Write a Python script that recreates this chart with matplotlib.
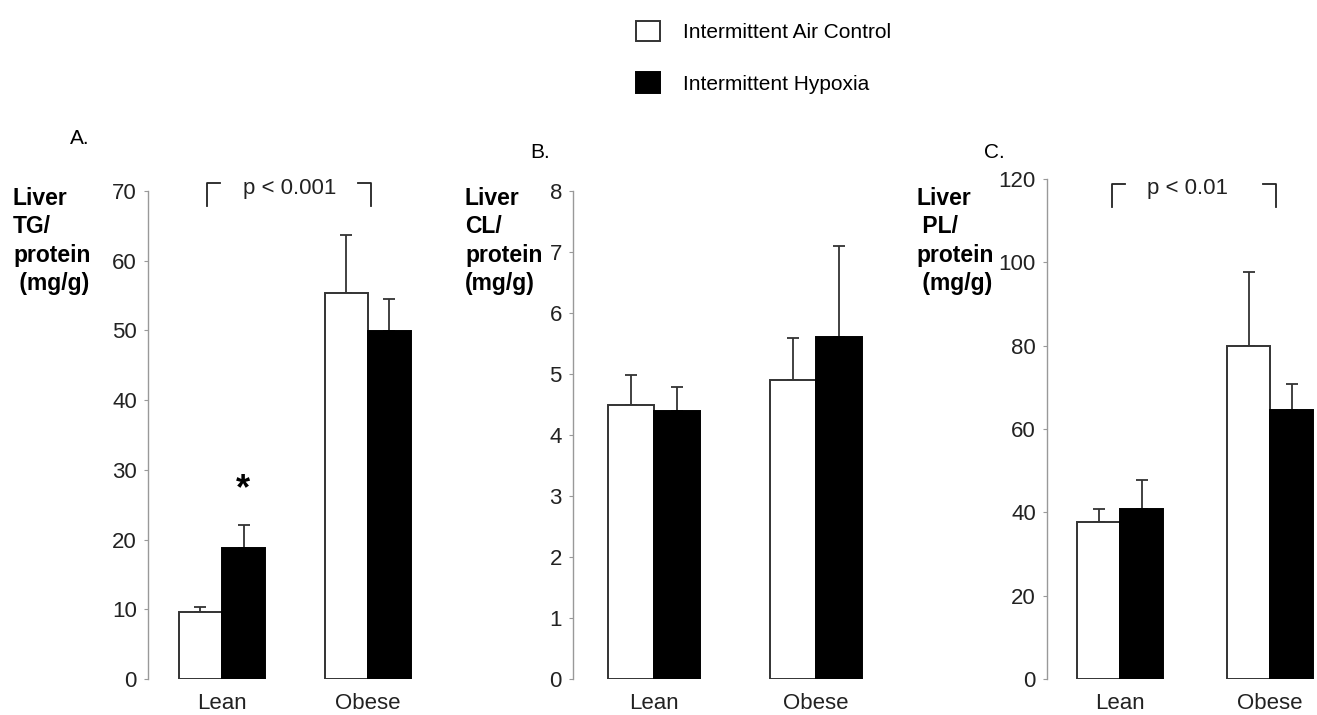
import numpy as np
import matplotlib
matplotlib.use('Agg')
import matplotlib.pyplot as plt

plt.rcParams['font.family'] = ['Liberation Sans', 'DejaVu Sans']

groups = ['Lean', 'Obese']
series = ['Intermittent Air Control', 'Intermittent Hypoxia']

# panel A: TG
tg_air = [9.6, 55.4]
tg_air_err = [0.8, 8.3]
tg_hyp = [18.8, 49.9]
tg_hyp_err = [3.3, 4.6]

# panel B: CL
cl_air = [4.50, 4.90]
cl_air_err = [0.49, 0.69]
cl_hyp = [4.40, 5.60]
cl_hyp_err = [0.39, 1.50]

# panel C: PL
pl_air = [37.8, 80.0]
pl_air_err = [2.9, 17.7]
pl_hyp = [40.9, 64.5]
pl_hyp_err = [6.8, 6.3]

fig = plt.figure(figsize=(13.17, 7.15), dpi=100)

panels = [
    dict(rect=[0.1124, 0.0503, 0.2113, 0.6825], xlim=(-0.507, 1.4), ylim=70, yticks=np.arange(0, 71, 10),
         w=0.295, air=tg_air, air_err=tg_air_err, hyp=tg_hyp, hyp_err=tg_hyp_err,
         ylab='Liver\nTG/\nprotein\n (mg/g)', labx=13, tag='A.', tagxy=(80, 138)),
    dict(rect=[0.4351, 0.0503, 0.2339, 0.6825], xlim=(-0.5, 1.4), ylim=8, yticks=np.arange(0, 9, 1),
         w=0.284, air=cl_air, air_err=cl_air_err, hyp=cl_hyp, hyp_err=cl_hyp_err,
         ylab='Liver\nCL/\nprotein\n(mg/g)', labx=465, tag='B.', tagxy=(540, 152)),
    dict(rect=[0.795, 0.0503, 0.2035, 0.6993], xlim=(-0.487, 1.3), ylim=120, yticks=np.arange(0, 121, 20),
         w=0.287, air=pl_air, air_err=pl_air_err, hyp=pl_hyp, hyp_err=pl_hyp_err,
         ylab='Liver\n PL/\nprotein\n (mg/g)', labx=916, tag='C.', tagxy=(994, 153)),
]

W, H = 1317, 715
axes = []
for p in panels:
    ax = fig.add_axes(p['rect'])
    x = np.arange(len(groups))
    w = p['w']
    b1 = ax.bar(x - w / 2, p['air'], w, color='white', edgecolor='#333333', linewidth=1.4,
                label=series[0], zorder=2)
    b2 = ax.bar(x + w / 2, p['hyp'], w, color='black', edgecolor='black', linewidth=1.4,
                label=series[1], zorder=2)
    ax.errorbar(x - w / 2, p['air'], yerr=[np.zeros(2), p['air_err']], fmt='none',
                ecolor='#333333', elinewidth=1.3, capsize=4, capthick=1.3, zorder=1)
    ax.errorbar(x + w / 2, p['hyp'], yerr=[np.zeros(2), p['hyp_err']], fmt='none',
                ecolor='#333333', elinewidth=1.3, capsize=4, capthick=1.3, zorder=1)
    ax.set_xlim(*p['xlim'])
    ax.set_ylim(0, p['ylim'])
    ax.set_yticks(p['yticks'])
    ax.set_xticks(x)
    ax.set_xticklabels(groups, fontsize=16, color='#222222')
    ax.tick_params(axis='x', length=0, pad=10)
    ax.tick_params(axis='y', length=3, width=0.8, color='#999999', pad=5, labelsize=16, labelcolor='#222222')
    for s in ['top', 'right', 'bottom']:
        ax.spines[s].set_visible(False)
    ax.spines['left'].set_color('#999999')
    ax.spines['left'].set_linewidth(1.0)
    fig.text(p['labx'] / W, 1 - 187 / H, p['ylab'], fontsize=16.5, fontweight='bold',
             ha='left', va='top', linespacing=1.3)
    fig.text(p['tagxy'][0] / W, 1 - p['tagxy'][1] / H, p['tag'], fontsize=15, ha='center', va='center')
    axes.append((ax, b1, b2))


def bracket(ax, x0, x1, xi0, xi1, ytop, ybot, txt, tx, ty):
    ax.plot([x0, x0, xi0], [ybot, ytop, ytop], color='#222222', lw=1.3, clip_on=False)
    ax.plot([xi1, x1, x1], [ytop, ytop, ybot], color='#222222', lw=1.3, clip_on=False)
    ax.text(tx, ty, txt, fontsize=16, ha='center', va='center', color='#222222')


bracket(axes[0][0], -0.103, 1.02, -0.014, 0.932, 71.2, 67.9, 'p < 0.001', 0.466, 70.3)
bracket(axes[2][0], -0.053, 1.04, 0.033, 0.953, 118.9, 113.3, 'p < 0.01', 0.453, 117.8)
axes[0][0].text(0.145, 27.1, '*', fontsize=26, fontweight='bold', ha='center', va='center')

fig.legend(handles=[axes[0][1], axes[0][2]], labels=series, loc='upper left',
           bbox_to_anchor=(619 / W, 1 - 4 / H), frameon=False, fontsize=15, borderpad=0.3,
           handlelength=1.15, handleheight=1.15, handletextpad=1.1, labelspacing=1.45)

fig.savefig('out.png', dpi=100)
